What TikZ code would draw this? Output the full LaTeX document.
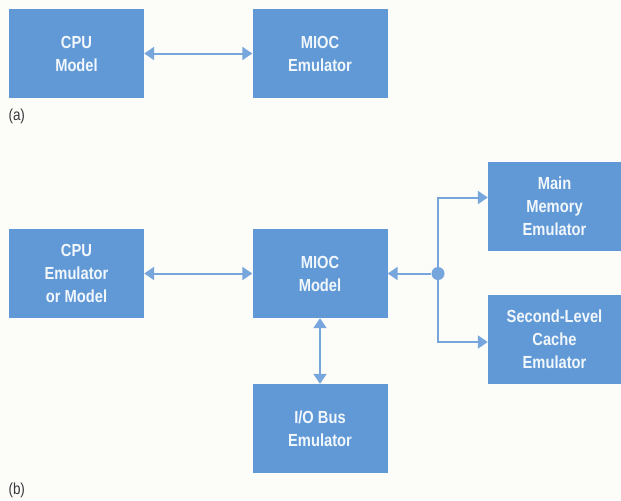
\documentclass[tikz,border=0pt]{standalone}
\usepackage{fontspec}
\setmainfont{Liberation Sans}[FakeStretch=0.84]
\usepackage{xcolor}
\usepackage{tikz}
\usetikzlibrary{arrows.meta}
\definecolor{boxblue}{RGB}{96,153,214}
\definecolor{lineblue}{RGB}{118,166,220}
\definecolor{paper}{RGB}{252,252,249}
\definecolor{labelgray}{RGB}{55,55,60}

\begin{document}
\begin{tikzpicture}[x=1pt, y=-1pt,
  unit/.style={fill=boxblue, text=white!92!boxblue, font=\bfseries\fontsize{17.5}{23}\selectfont,
    align=center, minimum width=135pt, minimum height=89pt, inner sep=0pt},
  tip/.tip={Triangle[width=13pt,length=10pt]},
  link/.style={draw=lineblue, line width=2pt},
  part/.style={text=labelgray, font=\fontsize{16}{18}\selectfont, anchor=west}]
% Background and margins
\fill[paper] (0,0) rectangle (621,499);

% (a) Emulated MIOC
\node[unit] (cpua) at (76.5,53.5) {CPU\\Model};
\node[unit] (mioca) at (320,53.5) {MIOC\\Emulator};
\node[part] (laba) at (5,116) {(a)};
\draw[link, tip-tip] (cpua) -- (mioca);

% (b) MIOC model with emulated surroundings
\node[unit] (cpub) at (76.5,273.5) {CPU\\Emulator\\or Model};
\node[unit] (miocb) at (320,273.5) {MIOC\\Model};
\node[unit, minimum width=133pt] (mem) at (554.5,206.5) {Main\\Memory\\Emulator};
\node[unit, minimum width=133pt] (cache) at (554.5,339) {Second-Level\\Cache\\Emulator};
\node[unit] (iobus) at (320,428.5) {I/O Bus\\Emulator};
\node[part] (labb) at (5,490) {(b)};

% Connectors
\draw[link, tip-tip] (cpub) -- (miocb);
\draw[link, tip-tip] (miocb) -- (iobus);
\node[circle, fill=lineblue, minimum size=13pt, inner sep=0pt] (junc) at (438,273.5) {};
\draw[link, -tip] (junc) -- (miocb);
\draw[link, -tip] (junc.center) |- ([yshift=9pt]mem.west);
\draw[link, -tip] (junc.center) |- ([yshift=-3pt]cache.west);
\end{tikzpicture}
\end{document}
